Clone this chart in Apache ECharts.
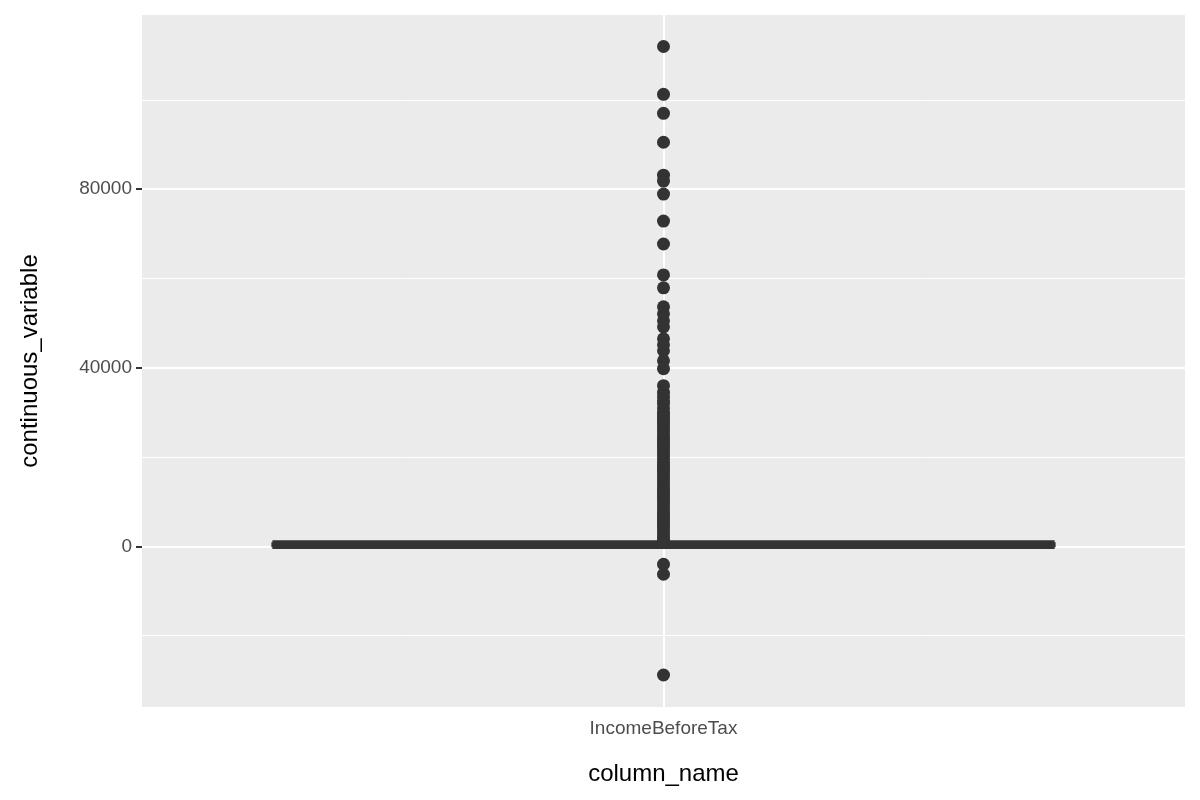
<!DOCTYPE html>
<html>
<head>
  <meta charset="utf-8" />
  <script src="https://cdn.jsdelivr.net/npm/echarts@6/dist/echarts.min.js"></script>
  <style>body{margin:0;background:#fff;}</style>
</head>
<body>
  <div id="main" style="width:1200px;height:800px;"></div>
  <script type="text/javascript">
    var categories = ['IncomeBeforeTax'];
    // min, Q1, median, Q3, max (very narrow box near 0)
    var boxStats = [[-400, 0, 300, 700, 1100]];
    // outliers
    var outliers = [111950, 101230, 96980, 90500, 83130, 81790, 78880, 72850, 67710,
      60780, 57880, 53630, 52070, 50500, 49160, 46480, 45140, 43800, 41560, 39780,
      35980, 34500, 33520, 32600, 31960, 31000, 30100, 29400, 28700, 28000, 27300,
      26600, 25900, 25200, 24500, 23800, 23100, 22400, 21700, 21000, 20300, 19600,
      18900, 18200, 17500, 16800, 16100, 15400, 14700, 14000, 13300, 12600, 11900,
      11200, 10500, 9800, 9100, 8400, 7700, 7000, 6300, 5600, 4900, 4200, 3500,
      2800, 2100, 1500, 1100, -4020, -6260, -28830];
    var majorGrid = [0, 40000, 80000];
    var minorGrid = [-20000, 20000, 60000, 100000];

    var chart = echarts.init(document.getElementById('main'));
    var gridLines = [];
    majorGrid.forEach(function (v) { gridLines.push({ yAxis: v, lineStyle: { width: 2 } }); });
    minorGrid.forEach(function (v) { gridLines.push({ yAxis: v, lineStyle: { width: 1 } }); });
    gridLines.push({ xAxis: categories[0], lineStyle: { width: 2 } });

    chart.setOption({
      animation: false,
      grid: { left: 142, right: 15, top: 15, bottom: 93, show: true, backgroundColor: '#EBEBEB', borderWidth: 0 },
      xAxis: {
        type: 'category', data: categories, boundaryGap: true,
        name: 'column_name', nameLocation: 'middle', nameGap: 55,
        nameTextStyle: { fontSize: 24, color: '#000', fontFamily: 'Liberation Sans' },
        axisLine: { show: false },
        axisTick: { show: true, alignWithLabel: true, length: 6, lineStyle: { color: '#333', width: 2 } },
        axisLabel: { fontSize: 19, color: '#4D4D4D', margin: 12, fontFamily: 'Liberation Sans' },
        splitLine: { show: false }
      },
      yAxis: {
        type: 'value', min: -36000, max: 119000,
        name: 'continuous_variable', nameLocation: 'middle', nameGap: 100,
        nameTextStyle: { fontSize: 24, color: '#000', fontFamily: 'Liberation Sans' },
        axisLine: { show: false },
        axisTick: { show: true, customValues: majorGrid, length: 6, lineStyle: { color: '#333', width: 2 } },
        axisLabel: {
          customValues: majorGrid, fontSize: 19, color: '#4D4D4D', margin: 10, fontFamily: 'Liberation Sans',
          formatter: function (v) { return String(v); }
        },
        splitLine: { show: false }
      },
      series: [
        {
          type: 'scatter', data: [], zlevel: 0, z: 1, silent: true,
          markLine: { silent: true, symbol: 'none', label: { show: false }, lineStyle: { color: '#fff', type: 'solid' }, data: gridLines }
        },
        {
          type: 'boxplot', data: boxStats, zlevel: 1, z: 3, boxWidth: ['75%', '75%'],
          itemStyle: { color: '#333', borderColor: '#333', borderWidth: 2 }
        },
        {
          type: 'scatter', zlevel: 1, z: 4, symbolSize: 13,
          itemStyle: { color: '#333', opacity: 1 },
          data: outliers.map(function (v) { return [categories[0], v]; })
        }
      ]
    });
  </script>
</body>
</html>
